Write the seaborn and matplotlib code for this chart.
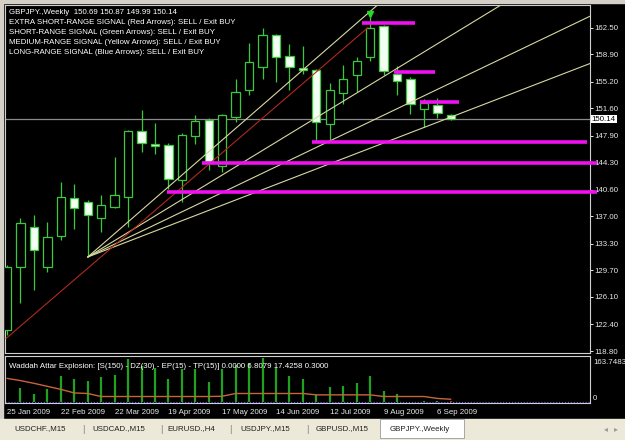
import numpy as np
import matplotlib
matplotlib.use('Agg')
import matplotlib.pyplot as plt
import matplotlib.transforms as mtrans
from matplotlib.patches import Rectangle
import seaborn as sns

# weekly GBPJPY bars, 25 Jan 2009 .. 13 Sep 2009
opens = [121.63, 130.17, 135.56, 130.17, 134.31, 139.53, 138.94, 136.83, 138.26, 139.61,
         148.47, 146.81, 146.68, 141.86, 147.84, 150.05, 143.79, 150.40, 154.00, 157.14,
         161.52, 158.63, 157.06, 156.79, 149.51, 153.69, 156.12, 158.49, 162.77, 156.16,
         155.58, 151.53, 152.07, 150.69]
highs = [130.40, 136.74, 137.14, 136.24, 141.63, 141.32, 139.26, 139.84, 145.00, 148.70,
         151.40, 149.59, 146.90, 148.30, 150.72, 150.27, 150.86, 155.58, 160.44, 162.41,
         161.65, 160.30, 160.07, 156.97, 154.99, 157.51, 158.49, 163.89, 162.90, 157.37,
         155.80, 152.88, 153.02, 150.87]
lows = [121.00, 125.27, 127.03, 129.50, 133.77, 135.35, 131.52, 134.89, 138.18, 135.56,
        145.68, 145.47, 140.74, 138.94, 146.81, 143.21, 142.98, 149.73, 153.42, 155.49,
        155.12, 154.00, 156.26, 147.03, 147.26, 152.11, 153.77, 157.95, 156.03, 153.33,
        150.86, 149.05, 150.32, 149.99]
closes = [130.17, 136.10, 132.42, 134.22, 139.61, 138.18, 137.14, 138.59, 139.93, 148.51,
          146.90, 146.54, 142.09, 147.93, 149.82, 144.33, 150.63, 153.77, 157.82, 161.52,
          158.49, 157.14, 156.79, 149.73, 154.10, 155.58, 157.95, 162.46, 156.57, 155.26,
          152.21, 152.29, 150.99, 150.14]

date_labels = ['25 Jan 2009', '22 Feb 2009', '22 Mar 2009', '19 Apr 2009', '17 May 2009',
               '14 Jun 2009', '12 Jul 2009', '9 Aug 2009', '6 Sep 2009']
date_label_bars = [0, 4, 8, 12, 16, 20, 24, 28, 32]

price_ticks = [162.50, 158.90, 155.20, 151.60, 147.90, 144.30, 140.60,
               137.00, 133.30, 129.70, 126.10, 122.40, 118.80]

# Waddah Attar Explosion sub-window
explosion_up = [0, 50, 29, 46, 95, 83, 76, 90, 98, 155, 131, 123, 83, 119, 119, 74, 119,
                135, 141, 159, 123, 95, 83, 26, 56, 58, 70, 95, 41, 29, 0, 4, 3, 0]
explosion_down = [0] * 33 + [5]
explosion_line = [86, 78, 68, 57, 46, 33, 31, 20, 20, 20, 20, 20, 20, 20, 20, 20, 21,
                  31, 31, 31, 31, 31, 31, 26, 26, 26, 26, 26, 20, 20, 20, 20, 13, 10]

# trend lines and levels drawn on the chart
fan_origin_bar, fan_origin_price = 6, 131.5
fan_slopes = [1.58, 1.108, 0.871, 0.700]
red_line_bars = [-0.07, 26.84]
red_line_prices = [120.5, 162.5]
level_prices = [163.08, 156.43, 152.42, 146.99, 144.16, 140.25]
level_start = [26.4, 28.8, 30.7, 22.7, 14.5, 11.9]
level_end = [30.3, 31.8, 33.6, 43.1, 43.9, 43.9]

tabs = ['USDCHF.,M15', 'USDCAD.,M15', 'EURUSD.,H4', 'USDJPY.,M15', 'GBPUSD.,M15', 'GBPJPY.,Weekly']

W, H = 625, 440
GREEN = '#3cc83c'
FS = 5.7


def fx(px):
    return px / W


def fy(py):
    return 1 - py / H


sns.set_style('dark', {'axes.facecolor': 'black', 'figure.facecolor': 'black'})
plt.rcParams['font.family'] = ['Liberation Sans', 'DejaVu Sans']

fig = plt.figure(figsize=(6.25, 4.4), dpi=100, facecolor='black')

# window frame and tab bar (behind the axes)
fig.patches.append(Rectangle((0, fy(3)), 1, 1 - fy(3), transform=fig.transFigure,
                             color='#d4d0c8', zorder=-2))
fig.patches.append(Rectangle((0, 0), fx(3), 1, transform=fig.transFigure,
                             color='#d4d0c8', zorder=-2))
fig.patches.append(Rectangle((0, 0), 1, fy(419), transform=fig.transFigure,
                             color='#ece9d8', zorder=-2))
fig.patches.append(Rectangle((fx(380), fy(438)), fx(84), fy(419) - fy(438),
                             transform=fig.transFigure, fc='white', ec='#9a9a9a',
                             lw=0.6, zorder=-1))

ax = fig.add_axes([fx(5), fy(353), fx(590) - fx(5), fy(5) - fy(353)])
ax2 = fig.add_axes([fx(5), fy(403), fx(590) - fx(5), fy(356) - fy(403)])

idx = np.arange(len(opens))
o, h, l, c = (np.array(a) for a in (opens, highs, lows, closes))
bull = c >= o

# candles
ax.vlines(idx, l, h, color=GREEN, lw=0.9, zorder=3)
ax.bar(idx[bull], (c - o)[bull], bottom=o[bull], width=0.62, color='black',
       edgecolor=GREEN, lw=0.9, zorder=4)
ax.bar(idx[~bull], (o - c)[~bull], bottom=c[~bull], width=0.62, color='#f4fff4',
       edgecolor=GREEN, lw=0.9, zorder=4)

# fan + red trend line
xe = np.array([fan_origin_bar, 44])
for s in fan_slopes:
    sns.lineplot(x=xe, y=fan_origin_price + s * (xe - fan_origin_bar), ax=ax,
                 color='#d8d8a0', lw=0.8, zorder=5)
sns.lineplot(x=red_line_bars, y=red_line_prices, ax=ax, color='#b02a1e', lw=0.8, zorder=5)

# current price line
ax.axhline(closes[-1], color='#8a8a8a', lw=0.9, zorder=2)

# magenta levels
for p, x0, x1 in zip(level_prices, level_start, level_end):
    ax.plot([x0, x1], [p, p], color='#f010f0', lw=2.6, solid_capstyle='butt',
            zorder=6, clip_on=x1 < 43.5)

ax.plot(27, 164.3, marker='v', color='#22dd22', ms=4, zorder=7)

ax.set_xlim(-0.15, 43.35)
ax.set_ylim(118.53, 165.55)
ax.set_xticks([])
ax.yaxis.tick_right()
ax.set_yticks(price_ticks)
ax.set_yticklabels([f'{v:.2f}' for v in price_ticks])
ax.tick_params(axis='y', colors='#e8e8e8', labelsize=FS, length=2, width=0.7, pad=1.2)
for sp in ax.spines.values():
    sp.set_color('#d0d0d0')
    sp.set_linewidth(0.8)

blend = mtrans.blended_transform_factory(ax.transAxes, ax.transData)
ax.text(1.003, closes[-1], f'{closes[-1]:.2f}', transform=blend, color='black', fontsize=FS,
        va='center', ha='left', bbox=dict(fc='white', ec='none', pad=0.6), zorder=10)

# indicator window
ax2.vlines(idx, 0, explosion_up, color='#1fa31f', lw=1.6, zorder=3)
ax2.vlines(idx, 0, explosion_down, color='#e01818', lw=1.6, zorder=3)
sns.lineplot(x=idx, y=explosion_line, ax=ax2, color='#c8643c', lw=1.0, zorder=4)
ax2.axhline(0, color='#5a5aff', lw=0.8, ls=':', zorder=2)
ax2.set_xlim(-0.15, 43.35)
ax2.set_ylim(-3.6, 167.4)
ax2.set_yticks([])
ax2.set_xticks(date_label_bars)
ax2.set_xticklabels([])
ax2.tick_params(axis='x', colors='#e8e8e8', length=3, width=0.7, direction='out')
for sp in ax2.spines.values():
    sp.set_color('#d0d0d0')
    sp.set_linewidth(0.8)

dblend = mtrans.blended_transform_factory(ax2.transData, fig.transFigure)
for b, lab in zip(date_label_bars, date_labels):
    fig.text(b, fy(412), lab, transform=dblend, color='#e8e8e8', fontsize=FS,
             ha='left', va='center')

fig.text(fx(593), fy(362), '163.7483', color='#e8e8e8', fontsize=FS, va='center')
fig.text(fx(593), fy(398), '0', color='#e8e8e8', fontsize=FS, va='center')

# chart captions
title = f'GBPJPY.,Weekly  {opens[-1]:.2f} {highs[-1]:.2f} {lows[-1]:.2f} {closes[-1]:.2f}'
captions = [title,
            'EXTRA SHORT-RANGE SIGNAL (Red Arrows): SELL / Exit BUY',
            'SHORT-RANGE SIGNAL (Green Arrows): SELL / Exit BUY',
            'MEDIUM-RANGE SIGNAL (Yellow Arrows): SELL / Exit BUY',
            'LONG-RANGE SIGNAL (Blue Arrows): SELL / Exit BUY']
for i, t in enumerate(captions):
    fig.text(fx(9), fy(13 + 9.8 * i), t, color='white', fontsize=FS, va='center', zorder=10)
fig.text(fx(9), fy(366), 'Waddah Attar Explosion: [S(150) - DZ(30) - EP(15) - TP(15)] '
         '0.0000 6.8079 17.4258 0.3000', color='white', fontsize=FS, va='center')

tab_x = [14, 92, 167, 240, 316, 390]
for t, x in zip(tabs, tab_x):
    fig.text(fx(x), fy(429), t, color='#202020', fontsize=FS, va='center')
for x in [82, 160, 229, 306]:
    fig.text(fx(x), fy(429), '|', color='#808080', fontsize=FS + 1, va='center')
fig.text(fx(604), fy(429), '◂', color='#9a9a9a', fontsize=FS, va='center',
         family=['DejaVu Sans'])
fig.text(fx(614), fy(429), '▸', color='#9a9a9a', fontsize=FS, va='center',
         family=['DejaVu Sans'])

fig.savefig('out.png', dpi=100, facecolor=fig.get_facecolor())
